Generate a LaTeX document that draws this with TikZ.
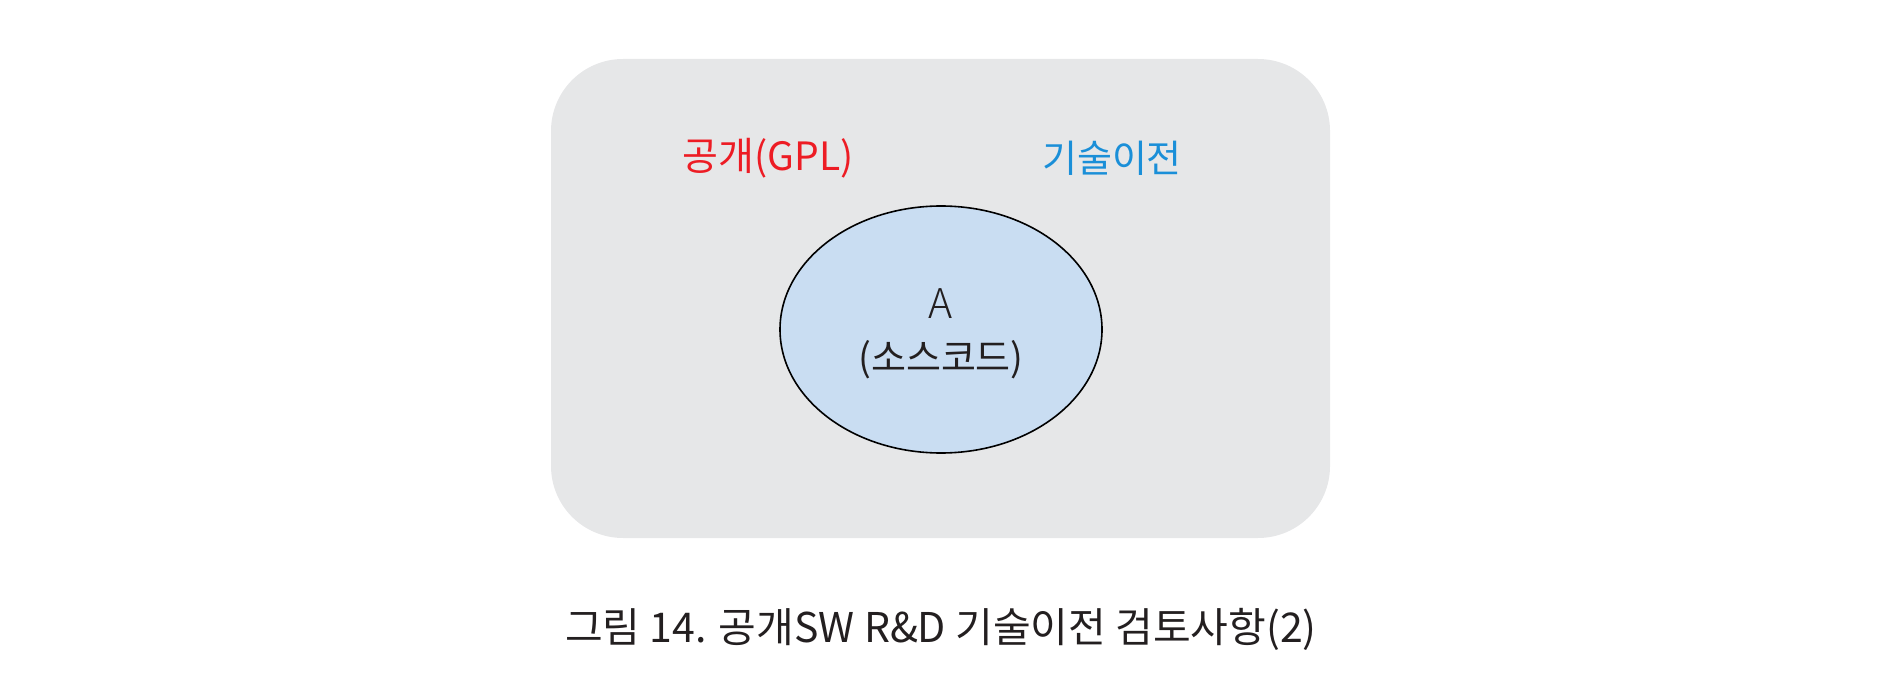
\documentclass[tikz,border=0pt]{standalone}
\usepackage{fontspec}
\setmainfont{Noto Sans CJK KR}
\newfontfamily\capfont{Noto Sans CJK KR}
\newfontfamily\lightfont{Noto Sans CJK KR Light}
\definecolor{boxgray}{HTML}{E6E7E8}
\definecolor{ellblue}{HTML}{C9DDF2}
\definecolor{gplred}{HTML}{ED1C24}
\definecolor{techblue}{HTML}{1A8FD8}
\definecolor{txtdark}{HTML}{231F20}
\tikzset{
  panel/.style={fill=boxgray, draw=none, rounded corners=36pt},
  src/.style={ellipse, draw=black, line width=0.8pt, fill=ellblue, minimum width=161pt, minimum height=123.5pt, inner sep=0pt},
  lbl/.style={inner sep=0pt, font=\fontsize{19pt}{22pt}\selectfont},
}
\usetikzlibrary{shapes.geometric}
\begin{document}
\begin{tikzpicture}[x=0.5pt,y=-0.5pt]
\useasboundingbox (0,0) rectangle (1894,684);
\fill[panel] (551,59) rectangle (1330,538);
\node[src] (ell) at (941,329.5) {};
\node[lbl, text=gplred, font=\fontsize{19.5pt}{22pt}\selectfont] (gpl) at (768,158) {공개(GPL)};
\node[lbl, text=techblue] (tech) at (1112,158) {기술이전};
\node[lbl, text=txtdark, font=\lightfont\fontsize{20.5pt}{24pt}\selectfont] (a) at (941,304) {A};
\node[lbl, text=txtdark, font=\fontsize{19pt}{22pt}\selectfont] (code) at (941,360) {(소스코드)};
\node[inner sep=0pt, text=txtdark, font=\capfont\fontsize{20.5pt}{24pt}\selectfont] (cap) at (941,629) {그림 14. 공개SW R\&D 기술이전 검토사항(2)};
\end{tikzpicture}
\end{document}
